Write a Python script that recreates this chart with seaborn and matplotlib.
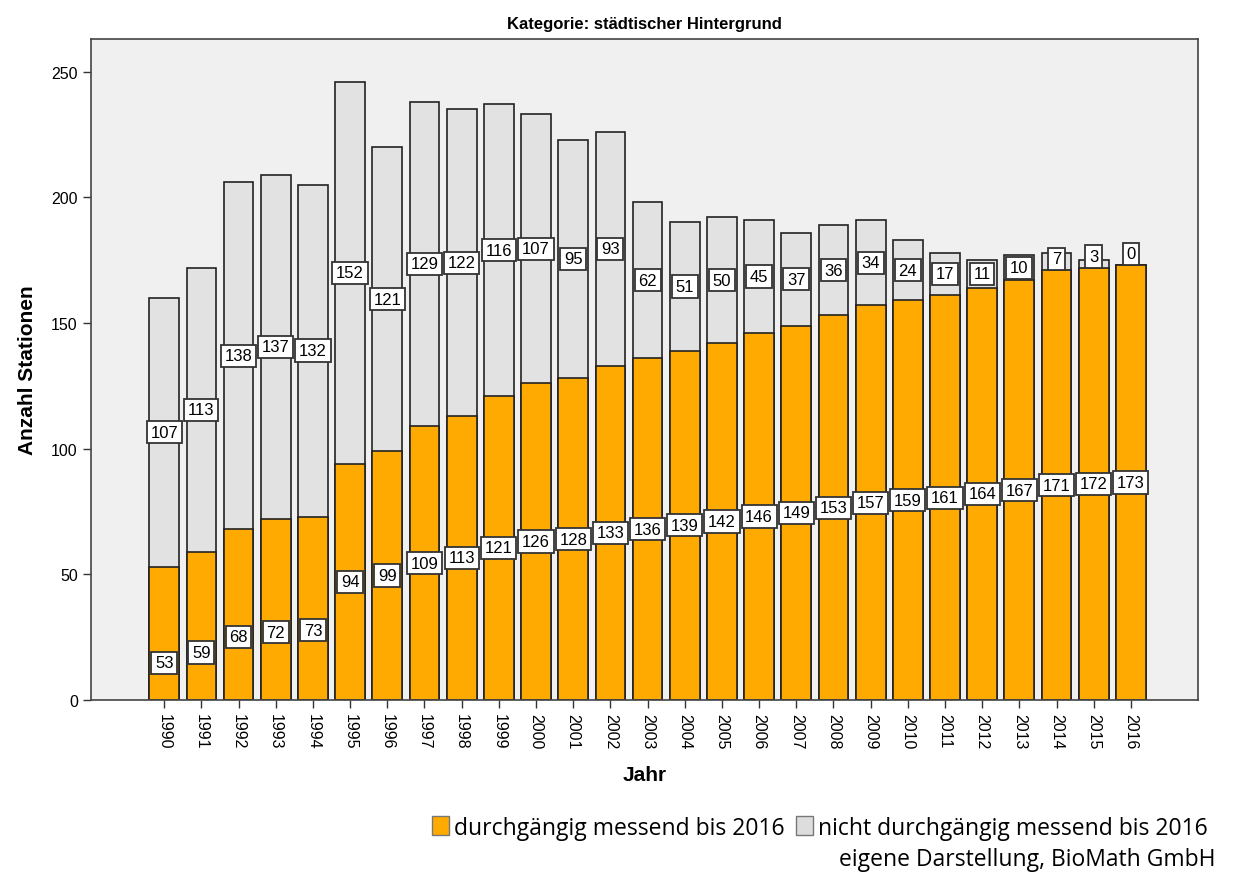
import matplotlib
matplotlib.use("Agg")
import matplotlib.pyplot as plt
import seaborn as sns
import pandas as pd
from matplotlib.patches import Patch

# | Data |---------------------------------------------------------------------------------------------------------------|
years = [str(y) for y in range(1990, 2017)]
durchgaengig = [53, 59, 68, 72, 73, 94, 99, 109, 113, 121, 126, 128, 133, 136, 139,
                142, 146, 149, 153, 157, 159, 161, 164, 167, 171, 172, 173]
nicht_durchgaengig = [107, 113, 138, 137, 132, 152, 121, 129, 122, 116, 107, 95, 93, 62, 51,
                      50, 45, 37, 36, 34, 24, 17, 11, 10, 7, 3, 0]
# SPSS pushes the lowest orange labels a bit down (fraction of bar height)
orange_label_frac = [0.28, 0.32, 0.37, 0.375, 0.38] + [0.5] * 22

ORANGE = "#FFAA00"
GREY = "#E2E2E2"
BG = "#F0F0F0"
EDGE = "#222222"

df = pd.DataFrame({"Jahr": years, "durch": durchgaengig, "nicht": nicht_durchgaengig})
df["gesamt"] = df["durch"] + df["nicht"]

sns.set_style("white")
plt.rcParams["font.family"] = ["Liberation Sans", "DejaVu Sans"]
plt.rcParams["text.color"] = "black"
plt.rcParams["axes.labelcolor"] = "black"
plt.rcParams["xtick.color"] = "#333333"
plt.rcParams["ytick.color"] = "#333333"

fig = plt.figure(figsize=(12.34, 8.79), dpi=100)
ax = fig.add_axes([0.0737, 0.2025, 0.897, 0.752])
ax.set_facecolor(BG)

sns.barplot(data=df, x="Jahr", y="gesamt", color=GREY, saturation=1, width=0.8,
            edgecolor=EDGE, linewidth=1.2, ax=ax)
sns.barplot(data=df, x="Jahr", y="durch", color=ORANGE, saturation=1, width=0.8,
            edgecolor=EDGE, linewidth=1.2, ax=ax)

box = dict(boxstyle="square,pad=0.22", facecolor="white", edgecolor="#333333", linewidth=1.3)
for i, (d, n, f) in enumerate(zip(df["durch"], df["nicht"], orange_label_frac)):
    ax.text(i, d * f, str(d), ha="center", va="center", fontsize=12, bbox=box, zorder=5)
    y_n = d + n / 2 if n >= 12 else d + max(n / 2, 4.5)
    ax.text(i, y_n, str(n), ha="center", va="center", fontsize=12, bbox=box, zorder=5)

ax.set_xlim(-1.97, 27.8)
ax.set_ylim(0, 263)
ax.set_yticks([0, 50, 100, 150, 200, 250])
ax.tick_params(axis="y", labelsize=11.5, length=6, width=1, left=True, labelcolor="black")
ax.tick_params(axis="x", labelsize=11.5, length=6, width=1, bottom=True, labelcolor="black",
               labelrotation=270)
for s in ax.spines.values():
    s.set_color("#444444")
    s.set_linewidth(1.2)

ax.set_xlabel("Jahr", fontsize=15, fontweight="bold", labelpad=12)
ax.set_ylabel("Anzahl Stationen", fontsize=15, fontweight="bold", labelpad=10)
ax.set_title("Kategorie: städtischer Hintergrund", fontsize=12, fontweight="bold", pad=8)

handles = [Patch(facecolor=ORANGE, edgecolor="#777777", label="durchgängig messend bis 2016"),
           Patch(facecolor="#DDDDDD", edgecolor="#777777", label="nicht durchgängig messend bis 2016")]
leg = fig.legend(handles=handles, loc="lower right", bbox_to_anchor=(0.986, 0.033), ncol=2,
                 frameon=False, handlelength=0.75, handleheight=0.9,
                 handletextpad=0.2, columnspacing=0.5, borderaxespad=0,
                 prop={"family": ["Open Sans", "DejaVu Sans"], "size": 16.5})
fig.text(0.985, 0.008, "eigene Darstellung, BioMath GmbH", ha="right", va="bottom",
         fontsize=16.5, family=["Open Sans", "DejaVu Sans"])

fig.savefig("out.png", dpi=100, facecolor="white")
